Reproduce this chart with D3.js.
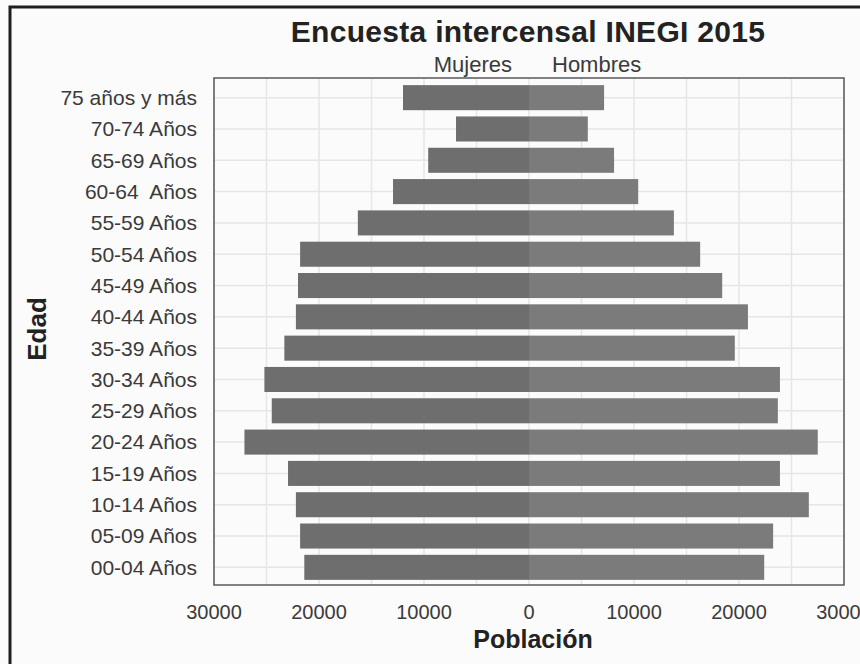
<!DOCTYPE html>
<html lang="es">
<head>
<meta charset="UTF-8">
<title>Encuesta intercensal INEGI 2015</title>
<style>
  * { margin: 0; padding: 0; }
  body { background: #fbfbfb; width: 860px; height: 664px; overflow: hidden; font-family: "Liberation Sans", Arial, sans-serif; }
  .grid line { stroke: #e6e6e6; stroke-width: 1.5px; }
  .y-label { font-size: 21px; fill: #3a3a3a; }
  .x-label { font-size: 20px; fill: #3a3a3a; }
</style>
</head>
<body>
<svg id="chart" width="860" height="664"></svg>
<script src="https://d3js.org/d3.v7.min.js"></script>
<script>
// age groups, top to bottom
const ages = ['75 años y más', '70-74 Años', '65-69 Años', '60-64  Años', '55-59 Años', '50-54 Años',
  '45-49 Años', '40-44 Años', '35-39 Años', '30-34 Años', '25-29 Años', '20-24 Años',
  '15-19 Años', '10-14 Años', '05-09 Años', '00-04 Años'];
const mujeres = [12000, 6950, 9600, 12950, 16300, 21800, 22000, 22200, 23300, 25200, 24500, 27100, 22950, 22200, 21800, 21400];
const hombres = [7150, 5600, 8100, 10400, 13800, 16300, 18400, 20850, 19600, 23900, 23700, 27500, 23900, 26650, 23250, 22400];
const xTicks = [-30000, -20000, -10000, 0, 10000, 20000, 30000];
const gridTicks = d3.range(-30000, 30001, 5000);

const svg = d3.select('#chart');

// outer frame (runs off the right/bottom of the photo)
svg.append('rect').attr('x', 10).attr('y', 7).attr('width', 900).attr('height', 700)
  .attr('fill', 'none').attr('stroke', '#1e1e1e').attr('stroke-width', 3);

const plot = { left: 214, right: 844, top: 78, bottom: 585 };

const x = d3.scaleLinear().domain([-30000, 30000]).range([plot.left, plot.right]);
const y = d3.scaleBand().domain(ages).range([82, 583]).paddingInner(0.2).paddingOuter(0.1);

// grid
const grid = svg.append('g').attr('class', 'grid');
grid.selectAll('line.v').data(gridTicks).join('line').attr('class', 'v')
  .attr('x1', d => x(d)).attr('x2', d => x(d))
  .attr('y1', plot.top).attr('y2', plot.bottom);
grid.selectAll('line.h').data(ages).join('line').attr('class', 'h')
  .attr('x1', plot.left).attr('x2', plot.right)
  .attr('y1', d => y(d) + y.bandwidth() / 2).attr('y2', d => y(d) + y.bandwidth() / 2);

// bars
svg.append('g').selectAll('rect').data(ages).join('rect')
  .attr('x', (d, i) => x(-mujeres[i]))
  .attr('y', d => y(d))
  .attr('width', (d, i) => x(0) - x(-mujeres[i]))
  .attr('height', y.bandwidth())
  .attr('fill', '#6e6e6e');

svg.append('g').selectAll('rect').data(ages).join('rect')
  .attr('x', x(0))
  .attr('y', d => y(d))
  .attr('width', (d, i) => x(hombres[i]) - x(0))
  .attr('height', y.bandwidth())
  .attr('fill', '#7b7b7b');

// plot border
svg.append('rect').attr('x', plot.left).attr('y', plot.top)
  .attr('width', plot.right - plot.left).attr('height', plot.bottom - plot.top)
  .attr('fill', 'none').attr('stroke', '#5a5a5a').attr('stroke-width', 1.5);

// y labels
svg.append('g').selectAll('text').data(ages).join('text')
  .attr('class', 'y-label')
  .attr('x', 197)
  .attr('y', d => y(d) + y.bandwidth() / 2)
  .attr('dy', '0.35em')
  .attr('text-anchor', 'end')
  .style('white-space', 'pre')
  .text(d => d);

// x tick labels
svg.append('g').selectAll('text').data(xTicks).join('text')
  .attr('class', 'x-label')
  .attr('x', d => x(d))
  .attr('y', 619)
  .attr('text-anchor', 'middle')
  .text(d => Math.abs(d));

// titles
svg.append('text').attr('x', 528).attr('y', 42).attr('text-anchor', 'middle')
  .attr('font-size', 30).attr('font-weight', 'bold').attr('fill', '#222')
  .attr('letter-spacing', 0.3)
  .text('Encuesta intercensal INEGI 2015');

svg.append('text').attr('x', 512).attr('y', 72).attr('text-anchor', 'end')
  .attr('font-size', 22).attr('fill', '#3a3a3a').text('Mujeres');
svg.append('text').attr('x', 552).attr('y', 72).attr('text-anchor', 'start')
  .attr('font-size', 22).attr('fill', '#3a3a3a').text('Hombres');

svg.append('text').attr('x', 533).attr('y', 648).attr('text-anchor', 'middle')
  .attr('font-size', 25).attr('font-weight', 'bold').attr('fill', '#222').text('Población');

svg.append('text').attr('transform', 'translate(46,329) rotate(-90)').attr('text-anchor', 'middle')
  .attr('font-size', 26).attr('font-weight', 'bold').attr('fill', '#222').text('Edad');
</script>
</body>
</html>
